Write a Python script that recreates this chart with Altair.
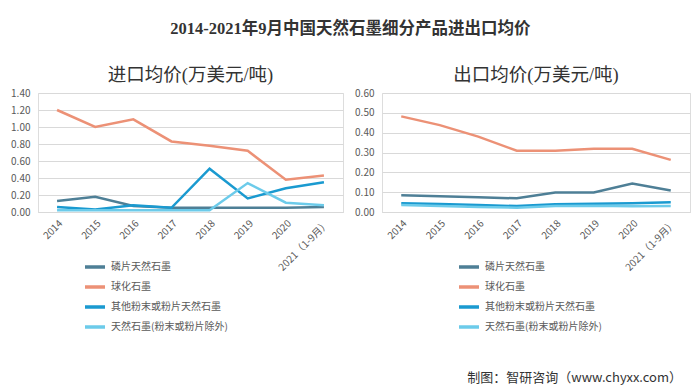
import altair as alt
import pandas as pd

years = ["2014", "2015", "2016", "2017", "2018", "2019", "2020", "2021（1-9月）"]
series = ["磷片天然石墨", "球化石墨", "其他粉末或粉片天然石墨", "天然石墨(粉末或粉片除外)"]
colors = ["#4e7f96", "#ec9176", "#1a9ad0", "#6ccbea"]

imp_flake = [0.13, 0.18, 0.07, 0.05, 0.05, 0.05, 0.05, 0.06]
imp_sph = [1.20, 1.00, 1.09, 0.83, 0.78, 0.72, 0.38, 0.43]
imp_other = [0.06, 0.03, 0.08, 0.05, 0.51, 0.16, 0.28, 0.35]
imp_nat = [0.02, 0.02, 0.02, 0.02, 0.02, 0.34, 0.11, 0.08]

exp_flake = [0.084, 0.079, 0.074, 0.069, 0.098, 0.098, 0.143, 0.108]
exp_sph = [0.482, 0.438, 0.380, 0.309, 0.309, 0.319, 0.319, 0.263]
exp_other = [0.044, 0.040, 0.035, 0.030, 0.039, 0.042, 0.044, 0.049]
exp_nat = [0.035, 0.030, 0.025, 0.022, 0.030, 0.032, 0.029, 0.030]

imp_ticks = [0, 0.2, 0.4, 0.6, 0.8, 1.0, 1.2, 1.4]
exp_ticks = [0, 0.1, 0.2, 0.3, 0.4, 0.5, 0.6]

main_title = "2014-2021年9月中国天然石墨细分产品进出口均价"
imp_title = "进口均价(万美元/吨)"
exp_title = "出口均价(万美元/吨)"
footer = "制图：智研咨询（www.chyxx.com）"

FONT = "Noto Sans CJK SC"
SERIF = "Liberation Serif, Noto Sans CJK SC"


def long_df(lists):
    rows = []
    for s, vals in zip(series, lists):
        for y, v in zip(years, vals):
            rows.append({"year": y, "series": s, "value": v})
    return pd.DataFrame(rows)


def panel(df, title, ticks, width, legend_x, with_footer=False):
    lines = alt.Chart(df).mark_line(strokeWidth=2.5).encode(
        x=alt.X("year:N", sort=years,
                scale=alt.Scale(type="point", padding=0.5),
                axis=alt.Axis(title=None, labelAngle=-45, labelFontSize=10,
                              labelColor="#595959", domainColor="#d9d9d9",
                              ticks=False, labelPadding=6, labelFont=FONT)),
        y=alt.Y("value:Q", scale=alt.Scale(domain=[0, ticks[-1]]),
                axis=alt.Axis(title=None, values=ticks, format=".2f",
                              labelFontSize=10, labelColor="#595959",
                              domain=False, ticks=False, gridColor="#d9d9d9",
                              labelPadding=8, labelFont=FONT)),
        color=alt.Color("series:N", sort=series,
                        scale=alt.Scale(domain=series, range=colors),
                        legend=alt.Legend(title=None, orient="none",
                                          legendX=legend_x, legendY=162,
                                          direction="vertical",
                                          symbolType="stroke",
                                          symbolStrokeWidth=3.5,
                                          symbolSize=400,
                                          labelFontSize=10,
                                          labelColor="#595959",
                                          labelFont=FONT,
                                          rowPadding=1)),
    )
    layers = [lines]
    if with_footer:
        ft = alt.Chart(pd.DataFrame({"t": [footer]})).mark_text(
            align="right", baseline="middle", fontSize=13, color="#333333",
            font=FONT
        ).encode(x=alt.value(width - 8), y=alt.value(285), text="t:N")
        layers.append(ft)
    return alt.layer(*layers).properties(
        width=width, height=119,
        title=alt.TitleParams(title, fontSize=18.5, font=SERIF,
                              fontWeight="normal", color="#333333",
                              anchor="middle", offset=4),
    )


left = panel(long_df([imp_flake, imp_sph, imp_other, imp_nat]),
             imp_title, imp_ticks, 305, 45)
right = panel(long_df([exp_flake, exp_sph, exp_other, exp_nat]),
              exp_title, exp_ticks, 308, 75, with_footer=True)

chart = alt.hconcat(left, right, spacing=10).resolve_scale(
    color="independent", y="independent", x="independent"
).properties(
    title=alt.TitleParams(main_title, fontSize=16.5, font=SERIF,
                          fontWeight="bold", color="#333333",
                          anchor="middle", offset=28),
    padding={"left": 2, "top": 12, "right": 0, "bottom": 0},
).configure_view(stroke=None).configure(background="white")

chart.save("out.html", embed_options={"renderer": "svg", "actions": False})
